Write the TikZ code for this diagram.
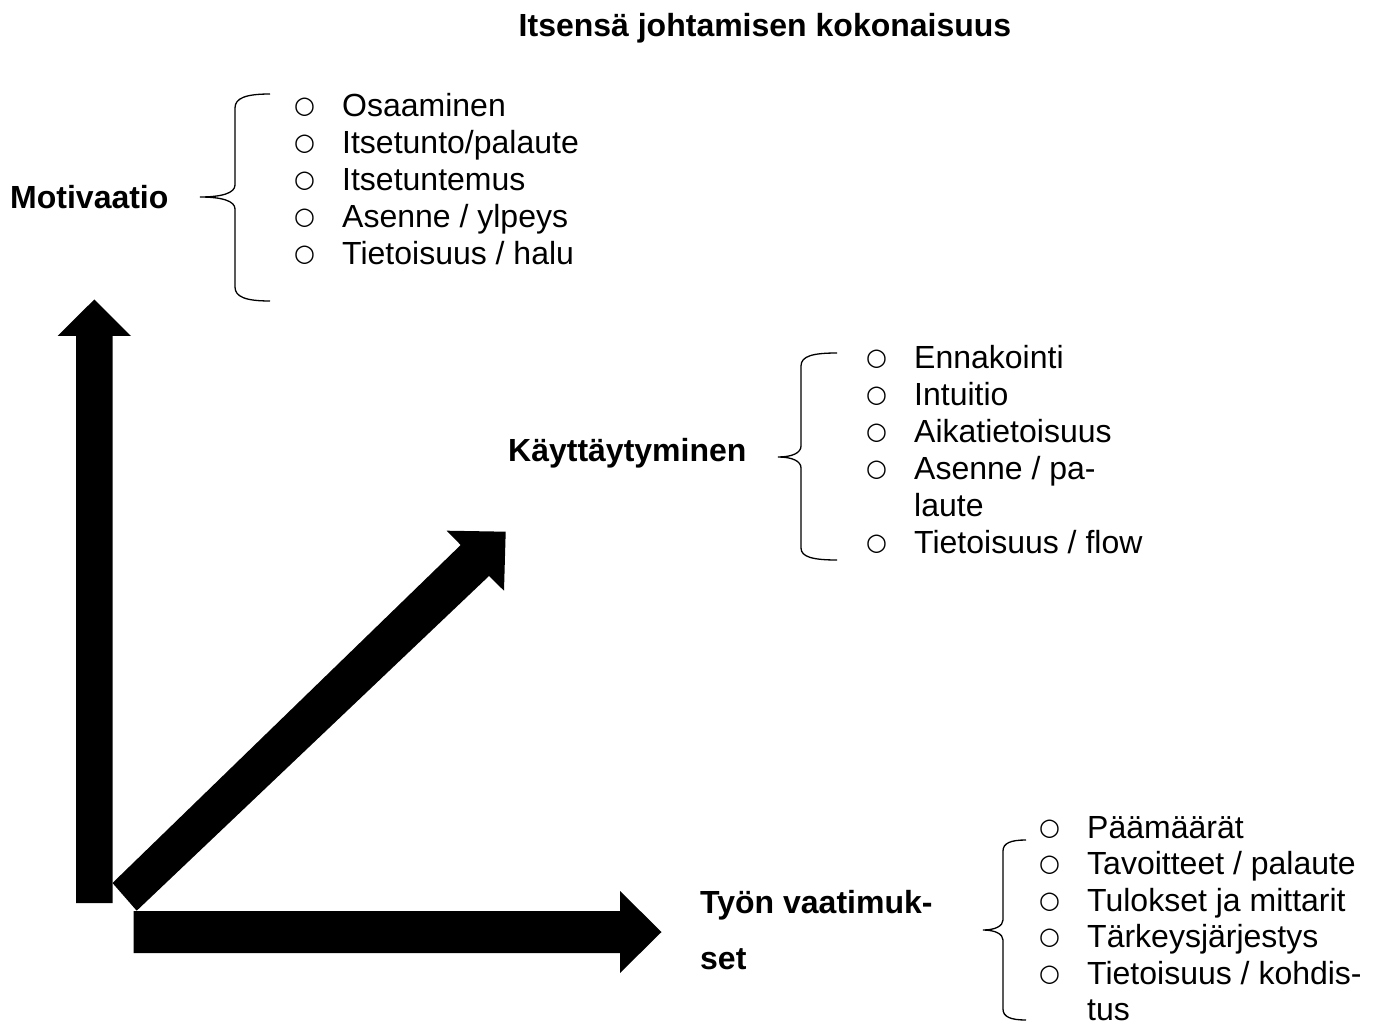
\documentclass[tikz,border=0pt]{standalone}
\usepackage{fontspec}
\setmainfont{Liberation Sans}
\newfontfamily\bulletfont{DejaVu Sans}
\newcommand{\bul}{\makebox[50pt][l]{\hspace*{2pt}\raisebox{3pt}{\bulletfont\fontsize{24}{37}\selectfont ○}}}
\newcommand{\nobul}{\hspace*{50pt}}
\tikzset{
  txt/.style={anchor=base west, inner sep=0pt, font=\fontsize{32}{37}\selectfont},
  headtxt/.style={txt, font=\fontsize{32}{37}\selectfont\bfseries},
  bigarrow/.style={fill=black, draw=none},
  brace/.style={draw=black, line width=1.3pt}
}

\begin{document}
\begin{tikzpicture}[x=1pt,y=-1pt]
      \useasboundingbox (0,0) rectangle (1379,1024);
      % title
      \node[headtxt, anchor=base] (title) at (765,37) {Itsensä johtamisen kokonaisuus};
      % big arrows
      \fill[bigarrow] (76,903) -- (112.5,903) -- (112.5,336) -- (131,336) -- (94.3,299.5) -- (57.5,336) -- (76,336) -- cycle;
      \fill[bigarrow] (133.5,911) -- (620,911) -- (620,891) -- (661.5,932) -- (620,973) -- (620,953) -- (133.5,953) -- cycle;
      \fill[bigarrow] (112.5,883) -- (460.7,545) -- (446.7,530.7) -- (505.7,531.7) -- (504,590.7) -- (489,576) -- (136.7,910.7) -- cycle;
      % Motivaatio
      \node[headtxt] (mot) at (10,209) {Motivaatio};
      \draw[brace] (270,94) .. controls (246,94) and (235,98) .. (235,108) -- (235,185) .. controls (235,193) and (222,197) .. (200,197) .. controls (222,197) and (235,201) .. (235,209) -- (235,287) .. controls (235,297) and (246,301) .. (270,301);
      \node[txt] (m1) at (292,117) {\bul Osaaminen};
      \node[txt] (m2) at (292,154) {\bul Itsetunto/palaute};
      \node[txt] (m3) at (292,191) {\bul Itsetuntemus};
      \node[txt] (m4) at (292,228) {\bul Asenne / ylpeys};
      \node[txt] (m5) at (292,265) {\bul Tietoisuus / halu};
      % Kayttaytyminen
      \node[headtxt] (kay) at (508,461) {Käyttäytyminen};
      \draw[brace] (837,353) .. controls (813,353) and (801,356) .. (801,366) -- (801,446) .. controls (801,453) and (792,457) .. (778,457) .. controls (792,457) and (801,461) .. (801,468) -- (801,548) .. controls (801,557) and (813,560) .. (837,560);
      \node[txt] (k1) at (864,368) {\bul Ennakointi};
      \node[txt] (k2) at (864,405) {\bul Intuitio};
      \node[txt] (k3) at (864,442) {\bul Aikatietoisuus};
      \node[txt] (k4) at (864,479) {\bul Asenne / pa-};
      \node[txt] (k5) at (864,516) {\nobul laute};
      \node[txt] (k6) at (864,553) {\bul Tietoisuus / flow};
      % Tyon vaatimukset
      \node[headtxt] (tyo1) at (700,913) {Työn vaatimuk-};
      \node[headtxt] (tyo2) at (700,969) {set};
      \draw[brace] (1026,840) .. controls (1011,840) and (1003,843) .. (1003,851) -- (1003,920) .. controls (1003,926) and (995,930) .. (983,930) .. controls (995,930) and (1003,934) .. (1003,940) -- (1003,1009) .. controls (1003,1017) and (1011,1020) .. (1026,1020);
      \node[txt] (t1) at (1037,838) {\bul Päämäärät};
      \node[txt] (t2) at (1037,874.5) {\bul Tavoitteet / palaute};
      \node[txt] (t3) at (1037,911) {\bul Tulokset ja mittarit};
      \node[txt] (t4) at (1037,947.5) {\bul Tärkeysjärjestys};
      \node[txt] (t5) at (1037,984) {\bul Tietoisuus / kohdis-};
      \node[txt] (t6) at (1037,1020) {\nobul tus};
    \end{tikzpicture}
\end{document}
